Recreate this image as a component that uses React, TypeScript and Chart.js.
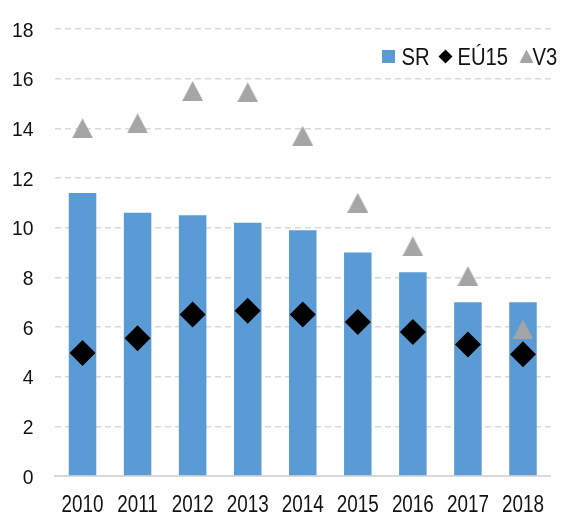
import React, { useEffect, useRef } from "react";
import { Chart, registerables } from "chart.js";

Chart.register(...registerables);

const years = ["2010", "2011", "2012", "2013", "2014", "2015", "2016", "2017", "2018"];
const srValues = [11.4, 10.6, 10.5, 10.2, 9.9, 9.0, 8.2, 7.0, 7.0];
const eu15Values = [4.95, 5.55, 6.5, 6.65, 6.5, 6.2, 5.8, 5.3, 4.9];
const v3Values = [14.0, 14.2, 15.5, 15.45, 13.7, 11.0, 9.25, 8.05, 5.9];

const FONT = "'Liberation Sans', Arial, sans-serif";
const BLUE = "#5B9BD5";
const GREY = "#A5A5A5";
const TEXT = "#111";

function makeTriangle(w: number, h: number, color: string) {
  const c = document.createElement("canvas");
  c.width = w;
  c.height = h;
  const g = c.getContext("2d")!;
  g.fillStyle = color;
  g.beginPath();
  g.moveTo(w / 2, 0);
  g.lineTo(w, h);
  g.lineTo(0, h);
  g.closePath();
  g.fill();
  return c;
}

function narrowText(ctx: any, text: string, x: number, y: number, size: number, sx: number, align: string) {
  ctx.save();
  ctx.font = `${size}px ${FONT}`;
  ctx.fillStyle = TEXT;
  ctx.textBaseline = "alphabetic";
  ctx.textAlign = align;
  ctx.translate(x, y);
  ctx.scale(sx, 1);
  ctx.fillText(text, 0, 0);
  ctx.restore();
}

const labelsPlugin = {
  id: "narrowLabels",
  afterDraw(chart: any) {
    const ctx = chart.ctx;
    const xs = chart.scales.x;
    const ys = chart.scales.y;
    xs.ticks.forEach((t: any, i: number) => {
      narrowText(ctx, String(chart.data.labels[i]), xs.getPixelForTick(i), 512, 23, 0.82, "center");
    });
    ys.ticks.forEach((t: any) => {
      narrowText(ctx, String(t.value), 33.5, ys.getPixelForValue(t.value) + 7.5, 21, 0.92, "right");
    });

    // legend
    const y = 56.5;
    const markerX = [382, 439, 520];
    const textX = [401.5, 457.5, 532.5];
    chart.data.datasets.forEach((d: any, i: number) => {
      const cx = markerX[i] + 6.5;
      ctx.save();
      ctx.fillStyle = d.legendColor;
      ctx.beginPath();
      if (d.legendShape === "diamond") {
        ctx.moveTo(cx, y - 7);
        ctx.lineTo(cx + 7, y);
        ctx.lineTo(cx, y + 7);
        ctx.lineTo(cx - 7, y);
        ctx.closePath();
        ctx.fill();
      } else if (d.legendShape === "triangle") {
        ctx.moveTo(cx, y - 7);
        ctx.lineTo(cx + 7, y + 6.5);
        ctx.lineTo(cx - 7, y + 6.5);
        ctx.closePath();
        ctx.fill();
      } else {
        ctx.fillRect(cx - 6.5, y - 6.5, 13, 13);
      }
      ctx.restore();
      narrowText(ctx, d.label, textX[i], 65, 23, 0.88, "left");
    });
  },
};

export default function App() {
  const ref = useRef<HTMLCanvasElement>(null);
  useEffect(() => {
    const tri = makeTriangle(21, 20, GREY);
    const chart = new Chart(ref.current!, {
      type: "bar",
      data: {
        labels: years,
        datasets: [
          {
            type: "bar",
            label: "SR",
            data: srValues,
            backgroundColor: BLUE,
            barPercentage: 0.5,
            categoryPercentage: 1,
            order: 3,
            legendColor: BLUE,
            legendShape: "square",
          } as any,
          {
            type: "line",
            label: "EÚ15",
            data: eu15Values,
            showLine: false,
            pointStyle: "rectRot",
            pointRadius: 13,
            pointBackgroundColor: "#000",
            pointBorderWidth: 0,
            borderColor: "#000",
            order: 2,
            legendColor: "#000",
            legendShape: "diamond",
          } as any,
          {
            type: "line",
            label: "V3",
            data: v3Values,
            showLine: false,
            pointStyle: tri,
            pointRadius: 10,
            pointBackgroundColor: GREY,
            pointBorderWidth: 0,
            borderColor: GREY,
            order: 1,
            legendColor: GREY,
            legendShape: "triangle",
          } as any,
        ],
      },
      options: {
        responsive: false,
        animation: false,
        layout: { padding: { top: 29, right: 13.5, left: 0, bottom: 0 } },
        plugins: { legend: { display: false }, tooltip: { enabled: false } },
        scales: {
          x: {
            grid: { display: false },
            border: { display: true, color: "#D9D9D9", width: 2 },
            ticks: { display: false },
            afterFit: (s: any) => { s.height = 39; },
          },
          y: {
            min: 0,
            max: 18,
            ticks: { display: false, stepSize: 2 },
            grid: { color: "#D9D9D9", lineWidth: 1.5, drawTicks: false },
            border: { display: false, dash: [6, 4] },
            afterFit: (s: any) => { s.width = 55; },
          },
        },
      } as any,
      plugins: [labelsPlugin],
    });
    return () => chart.destroy();
  }, []);
  return (
    <div style={{ position: "fixed", left: 0, top: 0, width: 564, height: 515, background: "#fff" }}>
      <canvas ref={ref} width={564} height={515} />
    </div>
  );
}
